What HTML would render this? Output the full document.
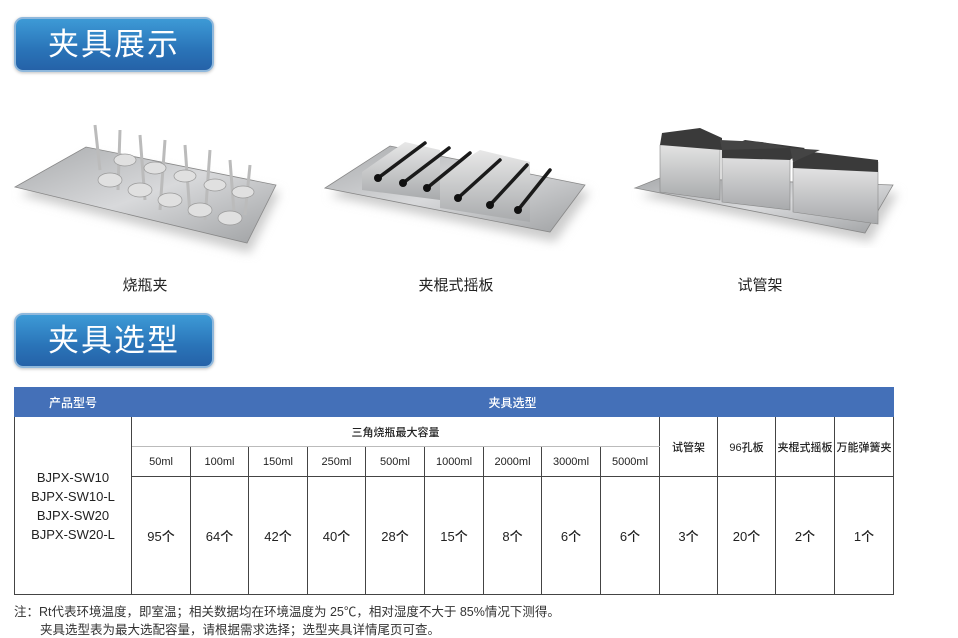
<!DOCTYPE html>
<html><head><meta charset="utf-8"><style>
*{margin:0;padding:0;box-sizing:border-box}
body{width:958px;height:635px;background:#fff;position:relative;overflow:hidden;font-family:"Liberation Sans","Noto Sans CJK SC",sans-serif;color:#222}
.btn{position:absolute;left:14px;width:200px;height:55px;border-radius:9px;background:linear-gradient(#3d9ad6,#2a74b8 60%,#2562a8);border:2px solid #8fb8dc;color:#fff;font-size:31px;text-align:center;line-height:51px;letter-spacing:2px;box-shadow:0 1px 3px rgba(0,0,0,.25)}
.lbl{position:absolute;top:274px;font-size:15px;width:120px;text-align:center}
table{position:absolute;left:14px;top:387px;border-collapse:collapse;width:879px;table-layout:fixed}
td{border:1px solid #444;text-align:center;font-size:11px;padding:0;font-weight:500}
.h td{background:#4470b8;color:#fff;height:29px;font-size:12px;border-color:#4470b8}
.d td{font-size:13px}
.note{position:absolute;left:14px;font-size:12.5px;color:#333}
</style></head><body>
<div class="btn" style="top:17px">夹具展示</div>
<div class="btn" style="top:313px">夹具选型</div>

<svg width="958" height="270" style="position:absolute;left:0;top:0">
<defs>
<linearGradient id="g" x1="0" y1="0" x2="1" y2="1"><stop offset="0" stop-color="#a9abad"/><stop offset=".5" stop-color="#d8d9db"/><stop offset="1" stop-color="#9fa1a3"/></linearGradient>
<linearGradient id="b" x1="0" y1="0" x2="0" y2="1"><stop offset="0" stop-color="#e8e8e8"/><stop offset="1" stop-color="#a8aaac"/></linearGradient>
<filter id="s"><feGaussianBlur stdDeviation="5"/></filter>
</defs>
<polygon points="20,195 90,155 280,192 250,253" fill="#ccc" filter="url(#s)"/>
<polygon points="15,187 86,147 276,185 247,243" fill="url(#g)" stroke="#888" stroke-width=".8"/>
<g stroke="#bbb" stroke-width="3" fill="none">
<path d="M95,125 L100,170 M120,130 L118,190 M140,135 L145,200 M165,140 L160,210 M185,145 L190,215 M210,150 L205,220 M230,160 L235,225 M250,165 L245,215"/>
</g>
<g fill="#e0e0e0" stroke="#999" stroke-width=".7">
<ellipse cx="110" cy="180" rx="12" ry="7"/><ellipse cx="140" cy="190" rx="12" ry="7"/><ellipse cx="170" cy="200" rx="12" ry="7"/><ellipse cx="200" cy="210" rx="12" ry="7"/><ellipse cx="230" cy="218" rx="12" ry="7"/>
<ellipse cx="125" cy="160" rx="11" ry="6"/><ellipse cx="155" cy="168" rx="11" ry="6"/><ellipse cx="185" cy="176" rx="11" ry="6"/><ellipse cx="215" cy="185" rx="11" ry="6"/><ellipse cx="243" cy="192" rx="11" ry="6"/>
</g>
<polygon points="330,196 395,155 590,192 555,242" fill="#ccc" filter="url(#s)"/>
<polygon points="325,188 390,146 585,185 550,232" fill="url(#g)" stroke="#888" stroke-width=".8"/>
<polygon points="362,172 405,142 440,150 440,200 362,190" fill="url(#b)"/>
<polygon points="440,175 480,150 530,162 530,222 440,208" fill="url(#b)"/>
<g stroke="#1a1a1a" stroke-width="3.5" stroke-linecap="round">
<line x1="378" y1="178" x2="425" y2="143"/><line x1="403" y1="183" x2="449" y2="148"/><line x1="427" y1="188" x2="470" y2="153"/>
<line x1="458" y1="198" x2="500" y2="160"/><line x1="490" y1="205" x2="527" y2="165"/><line x1="518" y1="210" x2="550" y2="170"/>
</g>
<g fill="#111"><circle cx="378" cy="178" r="4"/><circle cx="403" cy="183" r="4"/><circle cx="427" cy="188" r="4"/><circle cx="458" cy="198" r="4"/><circle cx="490" cy="205" r="4"/><circle cx="518" cy="210" r="4"/></g>
<polygon points="640,196 665,186 898,193 870,242" fill="#ccc" filter="url(#s)"/>
<polygon points="635,188 660,178 893,185 865,233" fill="url(#g)" stroke="#888" stroke-width=".8"/>
<polygon points="660,145 720,140 720,200 660,192" fill="url(#b)" stroke="#888" stroke-width=".6"/>
<polygon points="722,150 790,148 790,210 722,202" fill="url(#b)" stroke="#888" stroke-width=".6"/>
<polygon points="793,162 878,162 878,224 793,212" fill="url(#b)" stroke="#888" stroke-width=".6"/>
<polygon points="662,133 700,128 722,138 722,150 660,145" fill="#3a3a3a"/>
<polygon points="722,150 745,140 805,148 790,160 722,158" fill="#3a3a3a"/>
<polygon points="793,162 812,152 878,160 878,172 793,168" fill="#3a3a3a"/>
<polygon points="720,140 762,142 790,148 722,150" fill="#444"/>
<polygon points="790,148 820,150 793,162" fill="#444"/>
</svg>
<div class="lbl" style="left:85px">烧瓶夹</div>
<div class="lbl" style="left:396px">夹棍式摇板</div>
<div class="lbl" style="left:700px">试管架</div>

<table>
<colgroup><col style="width:117px"><col style="width:59px"><col style="width:58px"><col style="width:59px"><col style="width:58px"><col style="width:59px"><col style="width:59px"><col style="width:58px"><col style="width:59px"><col style="width:59px"><col style="width:58px"><col style="width:58px"><col style="width:59px"><col style="width:59px"></colgroup>
<tr class="h"><td>产品型号</td><td colspan="13">夹具选型</td></tr>
<tr style="height:30px"><td rowspan="3" style="font-size:13px;line-height:19px">BJPX-SW10<br>BJPX-SW10-L<br>BJPX-SW20<br>BJPX-SW20-L</td><td colspan="9" style="border-bottom-color:#bbb">三角烧瓶最大容量</td><td rowspan="2">试管架</td><td rowspan="2">96孔板</td><td rowspan="2">夹棍式摇板</td><td rowspan="2">万能弹簧夹</td></tr>
<tr style="height:30px"><td>50ml</td><td>100ml</td><td>150ml</td><td>250ml</td><td>500ml</td><td>1000ml</td><td>2000ml</td><td>3000ml</td><td>5000ml</td></tr>
<tr class="d" style="height:118px"><td>95个</td><td>64个</td><td>42个</td><td>40个</td><td>28个</td><td>15个</td><td>8个</td><td>6个</td><td>6个</td><td>3个</td><td>20个</td><td>2个</td><td>1个</td></tr>
</table>
<div class="note" style="top:601px">注：Rt代表环境温度，即室温；相关数据均在环境温度为 25℃，相对湿度不大于 85%情况下测得。</div>
<div class="note" style="top:619px;left:40px">夹具选型表为最大选配容量，请根据需求选择；选型夹具详情尾页可查。</div>
</body></html>
